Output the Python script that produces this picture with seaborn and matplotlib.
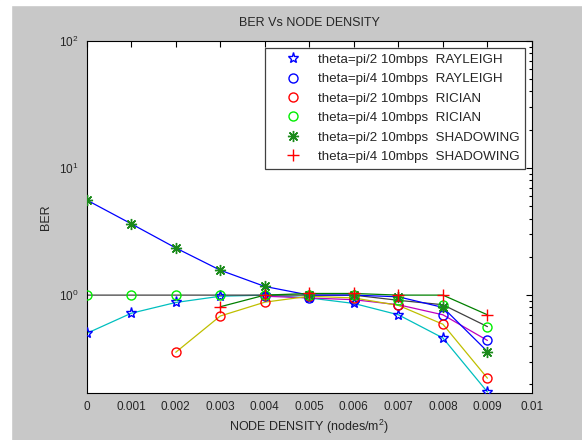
import numpy as np
import pandas as pd
import seaborn as sns
import matplotlib.pyplot as plt
from matplotlib.patches import Rectangle
from matplotlib.legend_handler import HandlerLine2D
from matplotlib.ticker import FixedLocator, LogLocator, NullFormatter, NullLocator

sns.set_style("white")
plt.rcParams['font.family'] = ['Liberation Sans', 'DejaVu Sans']
plt.rcParams['mathtext.default'] = 'regular'

# node density (nodes/m^2)
density = [0, 0.001, 0.002, 0.003, 0.004, 0.005, 0.006, 0.007, 0.008, 0.009]

# BER values
ray_pi2 = [0.50, 0.72, 0.875, 0.98, 1.0, 0.95, 0.86, 0.70, 0.46, 0.173]
ray_pi4 = [None, None, None, None, 0.98, 0.95, 0.92, 0.84, 0.70, 0.44]
ric_pi2 = [None, None, 0.355, 0.685, 0.88, 0.98, 0.95, 0.83, 0.59, 0.222]
ric_pi4 = [1.0, 1.0, 1.0, 1.0, 1.0, 1.0, 1.0, 0.91, 0.84, 0.565]
sha_pi2 = [5.6, 3.64, 2.35, 1.57, 1.17, 1.0, 1.0, 0.97, 0.80, 0.36]
sha_pi4 = [None, None, None, 0.81, 1.0, 1.03, 1.03, 1.0, 1.0, 0.70]

labels = ["theta=pi/2 10mbps  RAYLEIGH",
          "theta=pi/4 10mbps  RAYLEIGH",
          "theta=pi/2 10mbps  RICIAN",
          "theta=pi/4 10mbps  RICIAN",
          "theta=pi/2 10mbps  SHADOWING",
          "theta=pi/4 10mbps  SHADOWING"]

series = [ray_pi2, ray_pi4, ric_pi2, ric_pi4, sha_pi2, sha_pi4]
line_colors = ['c', 'm', 'y', '#404040', '#0000ff', '#008000']
marker_colors = ['#0000ff', '#0000ff', '#ff0000', '#00ee00', '#1a8a1a', '#ff0000']
markers = ['*', 'o', 'o', 'o', (8, 2, 0), '+']
filled = [False, False, False, False, True, True]
msizes = [8, 6.5, 6.5, 6.5, 8, 8]

gray = '#c8c8c8'
txt = '#262626'

fig = plt.figure(figsize=(5.82, 4.40), dpi=100, facecolor=gray)
fig.add_artist(Rectangle((0, 0), 11 / 582, 1, transform=fig.transFigure,
                         color='white', zorder=0))
fig.add_artist(Rectangle((0, 1 - 5 / 440), 1, 5 / 440, transform=fig.transFigure,
                         color='white', zorder=0))
ax = fig.add_axes([0.149, 0.107, 0.765, 0.800])
ax.set_facecolor('white')

# interpolation lines
for vals, lc in zip(series, line_colors):
    d = pd.DataFrame({'x': density, 'y': vals}).dropna()
    sns.lineplot(data=d, x='x', y='y', ax=ax, color=lc, linewidth=0.9,
                 legend=False, zorder=2)

# data markers
handles = []
for vals, mc, mk, fl, ms, lab in zip(series, marker_colors, markers, filled, msizes, labels):
    d = pd.DataFrame({'x': density, 'y': vals}).dropna()
    sns.lineplot(data=d, x='x', y='y', ax=ax, color=mc, linestyle='none',
                 marker=mk, markersize=ms, markeredgecolor=mc,
                 markerfacecolor=mc if fl else 'none', markeredgewidth=1.0,
                 label=lab, legend=False, zorder=3)
    handles.append(ax.lines[-1])

ax.set_yscale('log')
ax.set_xlim(0, 0.01)
ax.set_ylim(0.17, 100)
ax.xaxis.set_major_locator(FixedLocator(np.arange(0, 0.0105, 0.001)))
ax.set_xticklabels(['0', '0.001', '0.002', '0.003', '0.004', '0.005',
                    '0.006', '0.007', '0.008', '0.009', '0.01'])
ax.xaxis.set_minor_locator(NullLocator())
ax.yaxis.set_major_locator(LogLocator(base=10, numticks=10))
ax.yaxis.set_minor_locator(LogLocator(base=10, subs=np.arange(2, 10), numticks=20))
ax.yaxis.set_minor_formatter(NullFormatter())
ax.tick_params(which='both', direction='in', top=True, right=True,
               colors='black', labelcolor=txt, labelsize=8.5, width=0.8)
ax.tick_params(which='major', length=4, pad=6)
ax.tick_params(which='minor', length=2.5)
for sp in ax.spines.values():
    sp.set_color('black')
    sp.set_linewidth(0.8)

ax.set_title('BER Vs NODE DENSITY', fontsize=9, color=txt, pad=11)
ax.set_xlabel('NODE DENSITY (nodes/m$^{2}$)', fontsize=9, color=txt, labelpad=3)
ax.set_ylabel('BER', fontsize=9, color=txt, labelpad=5)

leg = ax.legend(handles=handles, labels=labels, loc='upper right', fontsize=9.6,
                frameon=True, fancybox=False, framealpha=1, edgecolor='#404040',
                borderaxespad=0.5, handlelength=3.0, handletextpad=0.5,
                labelspacing=0.53, borderpad=0.45,
                handler_map={h: HandlerLine2D(numpoints=1, xpad=0.3) for h in handles})
leg.get_frame().set_linewidth(0.9)
for t in leg.get_texts():
    t.set_color(txt)

fig.savefig('out.png', dpi=100, facecolor=gray)
